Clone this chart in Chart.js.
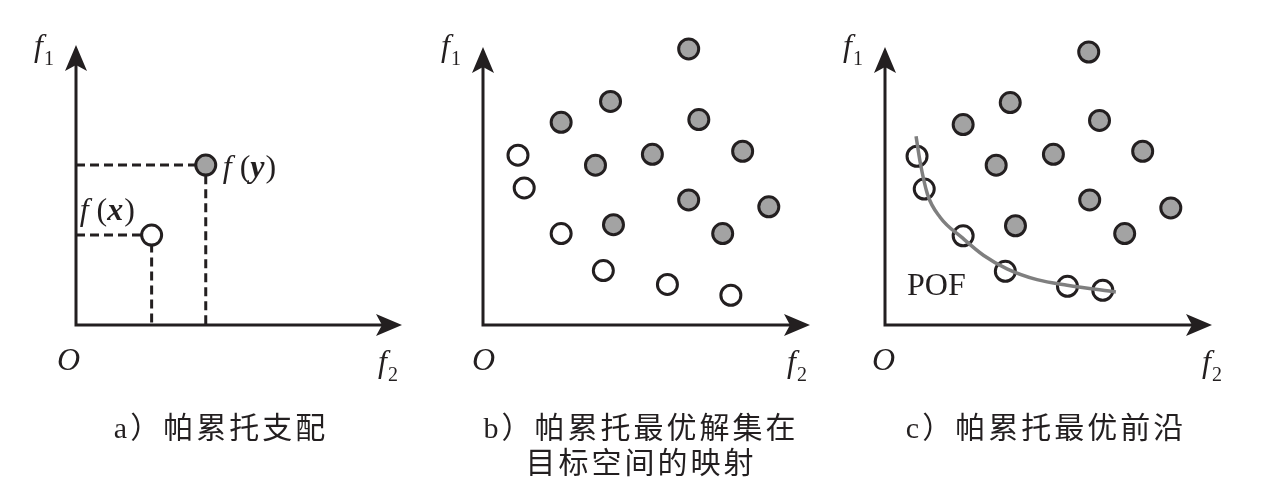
<!DOCTYPE html>
<html>
<head>
<meta charset="utf-8">
<script src="https://cdn.jsdelivr.net/npm/chart.js@4.4.1/dist/chart.umd.min.js"></script>
<style>
  body { margin: 0; background: #fff; width: 1282px; height: 499px; position: relative; overflow: hidden; }
  .panel { position: absolute; top: 0; }
  .cap {
    position: absolute; top: 410px; width: 420px; text-align: center;
    font-family: "Liberation Serif", "Noto Sans CJK SC", serif; font-weight: 400;
    font-size: 30px; line-height: 35px; letter-spacing: 3px; color: #231f20;
  }
</style>
</head>
<body>
<canvas id="chartA" class="panel" width="427" height="499" style="left:0px"></canvas>
<canvas id="chartB" class="panel" width="403" height="499" style="left:427px"></canvas>
<canvas id="chartC" class="panel" width="452" height="499" style="left:830px"></canvas>
<div class="cap" style="left:11px">a）帕累托支配</div>
<div class="cap" style="left:431px">b）帕累托最优解集在<br>目标空间的映射</div>
<div class="cap" style="left:836px">c）帕累托最优前沿</div>

<script>
// 图 a：两个解 x、y 的目标值 (f2, f1)
const aF2 = [2.32, 3.98];
const aF1 = [3.21, 5.71];
const aNames = ['x', 'y'];

// 图 b：被支配解（灰）与帕累托最优解（白）
const bGrayF2 = [6.29, 3.90, 2.39, 6.60, 5.18, 3.44, 7.94, 6.29, 8.74, 3.99, 7.33];
const bGrayF1 = [9.93, 8.04, 7.29, 7.39, 6.14, 5.75, 6.25, 4.50, 4.25, 3.61, 3.29];
const bParetoF2 = [1.07, 1.26, 2.39, 3.68, 5.64, 7.58];
const bParetoF1 = [6.11, 4.93, 3.29, 1.96, 1.46, 1.07];

// 图 c：同上，再加 POF 曲线
const cGrayF2 = [6.23, 3.83, 2.39, 6.56, 5.15, 3.40, 7.88, 6.26, 8.74, 3.99, 7.33];
const cGrayF1 = [9.82, 8.00, 7.21, 7.36, 6.14, 5.75, 6.25, 4.50, 4.21, 3.57, 3.29];
const cParetoF2 = [0.98, 1.20, 2.39, 3.68, 5.58, 6.66];
const cParetoF1 = [6.07, 4.89, 3.21, 1.93, 1.39, 1.25];
const pofF2 = [0.95, 1.07, 1.30, 1.69, 2.35, 3.02, 3.73, 4.65, 5.57, 7.06];
const pofF1 = [6.79, 5.89, 4.70, 3.87, 3.15, 2.50, 2.02, 1.63, 1.43, 1.19];

const INK = '#231f20';
const GRAY = '#a3a3a3';
const SERIF = '"Liberation Serif", "DejaVu Serif", serif';

const toXY = (xs, ys) => xs.map((x, i) => ({ x: x, y: ys[i] }));

function dots(xs, ys, fill) {
    return {
        type: 'scatter',
        data: toXY(xs, ys),
        pointRadius: 10,
        pointHoverRadius: 10,
        borderWidth: 3,
        borderColor: INK,
        backgroundColor: fill,
        clip: false
    };
}

// 画一串不同字体的文字
function drawRuns(ctx, x, y, runs) {
    runs.forEach(r => {
        ctx.font = r.font;
        ctx.fillText(r.text, x, y + (r.dy || 0));
        x += ctx.measureText(r.text).width + (r.gap || 0);
    });
    return x;
}

function f(sub) {
    return [
        { text: 'f', font: 'italic 32px ' + SERIF, gap: 1 },
        { text: sub, font: '20px ' + SERIF, dy: 9 }
    ];
}

// 坐标轴、箭头和轴标签
const axesPlugin = {
    id: 'axes',
    beforeDatasetsDraw(chart, args, opts) {
        const { ctx, chartArea: a } = chart;
        const ox = a.left, oy = a.bottom;
        ctx.save();
        ctx.strokeStyle = INK;
        ctx.fillStyle = INK;
        ctx.lineWidth = 3;
        ctx.beginPath();
        ctx.moveTo(ox, oy + 1.5);
        ctx.lineTo(ox, a.top + 18);
        ctx.moveTo(ox - 1.5, oy);
        ctx.lineTo(a.right - 18, oy);
        ctx.stroke();
        // y 箭头
        ctx.beginPath();
        ctx.moveTo(ox, a.top);
        ctx.lineTo(ox + 11, a.top + 26);
        ctx.lineTo(ox, a.top + 20);
        ctx.lineTo(ox - 11, a.top + 26);
        ctx.closePath();
        ctx.fill();
        // x 箭头
        ctx.beginPath();
        ctx.moveTo(a.right, oy);
        ctx.lineTo(a.right - 26, oy - 11);
        ctx.lineTo(a.right - 20, oy);
        ctx.lineTo(a.right - 26, oy + 11);
        ctx.closePath();
        ctx.fill();
        ctx.restore();
    },
    afterDraw(chart, args, opts) {
        const { ctx, chartArea: a } = chart;
        ctx.save();
        ctx.fillStyle = INK;
        ctx.textBaseline = 'alphabetic';
        drawRuns(ctx, a.left - 42, 56, f('1'));
        drawRuns(ctx, a.right + opts.f2dx, 372, f('2'));
        ctx.font = 'italic 32px ' + SERIF;
        ctx.fillText('O', a.left + opts.odx, 370);
        if (opts.pof) {
            ctx.font = '32px ' + SERIF;
            ctx.fillText('POF', a.left + 22, 295);
        }
        if (opts.names) {
            const xs = chart.scales.x, ys = chart.scales.y;
            opts.names.forEach((n, i) => {
                const px = xs.getPixelForValue(aF2[i]);
                const py = ys.getPixelForValue(aF1[i]);
                const runs = [
                    { text: 'f', font: 'italic 32px ' + SERIF, gap: 8 },
                    { text: '(', font: '32px ' + SERIF },
                    { text: n, font: 'italic bold 32px ' + SERIF, gap: 1 },
                    { text: ')', font: '32px ' + SERIF }
                ];
                if (i === 0) {
                    // 左上方
                    drawRuns(ctx, px - 72, py - 15, runs);
                } else {
                    drawRuns(ctx, px + 17, py + 12, runs);
                }
            });
        }
        ctx.restore();
    }
};

function makeChart(id, pad, datasets, labelOpts) {
    return new Chart(document.getElementById(id), {
        data: { datasets: datasets },
        options: {
            responsive: false,
            animation: false,
            events: [],
            layout: { padding: pad },
            scales: {
                x: { type: 'linear', min: 0, max: 10, display: false },
                y: { type: 'linear', min: 0, max: 10, display: false }
            },
            plugins: {
                legend: { display: false },
                tooltip: { enabled: false },
                axes: labelOpts
            }
        },
        plugins: [axesPlugin]
    });
}

// 图 a 的虚线：y 轴 -> 点 -> x 轴
const aGuides = aF2.map((x, i) => ({
    type: 'line',
    data: [{ x: 0, y: aF1[i] }, { x: x, y: aF1[i] }, { x: x, y: 0 }],
    borderColor: INK,
    borderWidth: 3,
    borderDash: [9, 5],
    pointRadius: 0,
    clip: false
}));

makeChart('chartA', { left: 76, right: 25, top: 45, bottom: 174 }, [
    dots([aF2[0]], [aF1[0]], '#ffffff'),
    dots([aF2[1]], [aF1[1]], GRAY),
    ...aGuides
], { f2dx: -24, odx: -19, names: aNames });

makeChart('chartB', { left: 56, right: 20, top: 47, bottom: 174 }, [
    dots(bGrayF2, bGrayF1, GRAY),
    dots(bParetoF2, bParetoF1, '#ffffff')
], { f2dx: -23, odx: -11 });

makeChart('chartC', { left: 55, right: 70, top: 47, bottom: 174 }, [
    {
        type: 'line',
        data: toXY(pofF2, pofF1),
        borderColor: '#7f7f7f',
        borderWidth: 3.5,
        pointRadius: 0,
        cubicInterpolationMode: 'monotone',
        clip: false
    },
    dots(cGrayF2, cGrayF1, GRAY),
    dots(cParetoF2, cParetoF1, '#ffffff')
], { f2dx: -10, odx: -13, pof: true });
</script>
</body>
</html>
